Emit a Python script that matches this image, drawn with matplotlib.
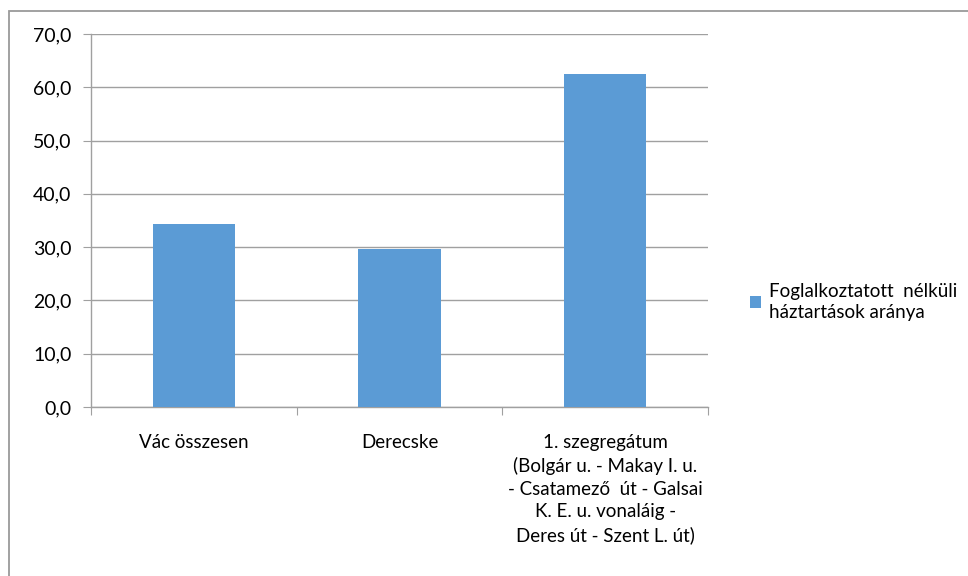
import matplotlib
matplotlib.use('Agg')
import matplotlib.pyplot as plt
from matplotlib.ticker import FuncFormatter, MultipleLocator
from matplotlib.patches import Rectangle

plt.rcParams['font.family'] = ['Lato', 'DejaVu Sans']

categories = [
    'Vác összesen',
    'Derecske',
    '1. szegregátum\n(Bolgár u. - Makay I. u.\n- Csatamező  út - Galsai\nK. E. u. vonaláig -\nDeres út - Szent L. út)',
]
values = [34.3, 29.6, 62.5]
series_name = 'Foglalkoztatott  nélküli\nháztartások aránya'

bar_color = '#5B9BD5'
grid_color = '#A0A0A0'

fig = plt.figure(figsize=(9.68, 5.76), dpi=100)

# outer chart border (only top and left edges fall inside the picture)
fig.patches.append(Rectangle((9 / 968, -0.05), 1.1, 1 - 11 / 576 + 0.05,
                             transform=fig.transFigure, fill=False,
                             edgecolor='#9A9A9A', linewidth=1.3))

ax = fig.add_axes([91 / 968, 1 - 407 / 576, 617 / 968, 373 / 576])

x = range(len(categories))
ax.bar(x, values, width=0.4, color=bar_color, zorder=3, label=series_name)

ax.set_xlim(-0.5, len(categories) - 0.5)
ax.set_ylim(0, 70)
ax.yaxis.set_major_locator(MultipleLocator(10))
ax.yaxis.set_major_formatter(FuncFormatter(lambda v, p: f'{v:.1f}'.replace('.', ',')))
ax.grid(axis='y', color=grid_color, linewidth=1, zorder=0)

for s in ['top', 'right']:
    ax.spines[s].set_visible(False)
for s in ['left', 'bottom']:
    ax.spines[s].set_color(grid_color)
    ax.spines[s].set_linewidth(1)

ax.tick_params(axis='y', length=6, color=grid_color, labelsize=14, pad=8)
# category boundaries carry the x tick marks
ax.set_xticks([-0.5, 0.5, 1.5, 2.5])
ax.set_xticklabels([])
ax.tick_params(axis='x', length=6, color=grid_color)

for i, lab in enumerate(categories):
    ax.text(i, -0.072, lab, transform=ax.get_xaxis_transform(), ha='center', va='top',
            fontsize=13.5, linespacing=1.4)

leg = ax.legend(loc='center left', bbox_to_anchor=(733 / 968, 1 - 302 / 576),
                bbox_transform=fig.transFigure, frameon=False, fontsize=13.5,
                handlelength=0.6, handleheight=0.6, handletextpad=0.4)
leg.get_texts()[0].set_linespacing(1.35)

plt.savefig('out.png', dpi=100)
